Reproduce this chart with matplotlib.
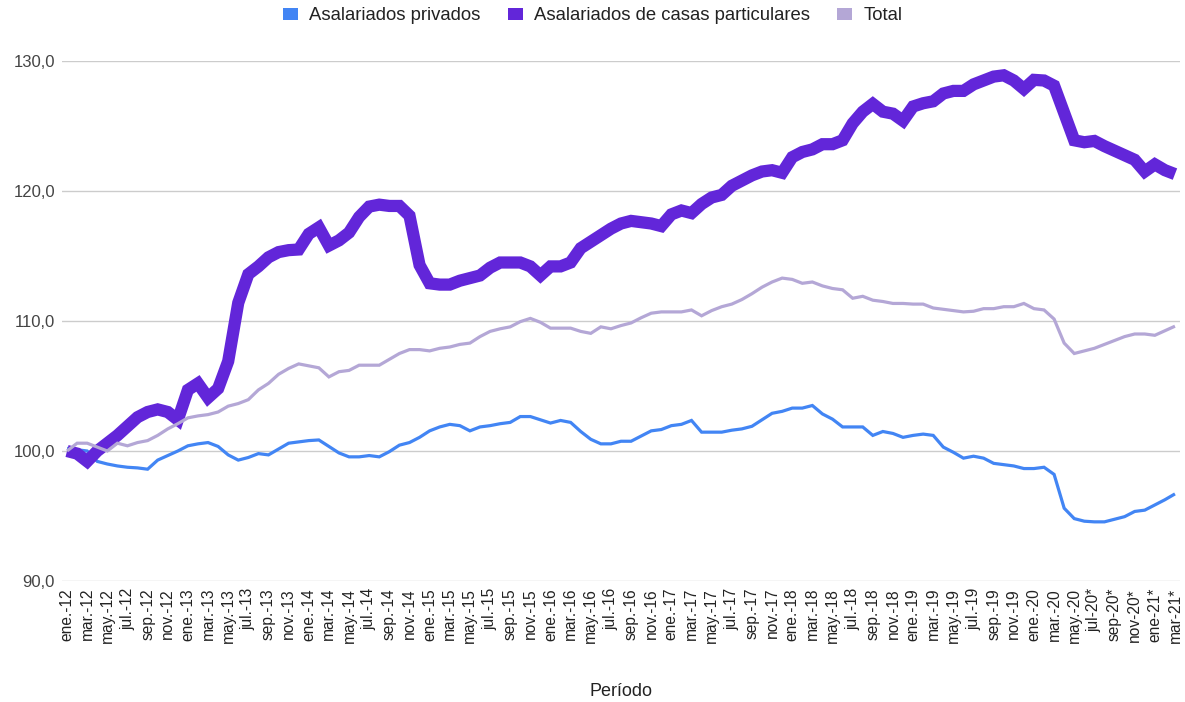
import numpy as np
import matplotlib
matplotlib.use("Agg")
import matplotlib.pyplot as plt
from matplotlib.patches import Patch

plt.rcParams['font.family'] = ['Liberation Sans', 'DejaVu Sans']

# Monthly index values, ene-12 .. mar-21 (111 months)
privados = [
    100.2, 100.1, 100.0, 99.2, 99.0, 98.85, 98.75, 98.7, 98.6, 99.3, 99.65, 100.0,
    100.4, 100.55, 100.65, 100.35, 99.7, 99.3, 99.5, 99.8, 99.7, 100.15, 100.6, 100.7,
    100.8, 100.85, 100.35, 99.85, 99.55, 99.55, 99.65, 99.55, 99.95, 100.45, 100.65, 101.05,
    101.55, 101.85, 102.05, 101.95, 101.55, 101.85, 101.95, 102.1, 102.2, 102.65, 102.65, 102.4,
    102.15, 102.35, 102.2, 101.5, 100.9, 100.55, 100.55, 100.75, 100.75, 101.15, 101.55, 101.65,
    101.95, 102.05, 102.35, 101.45, 101.45, 101.45, 101.6, 101.7, 101.9, 102.4, 102.9, 103.05,
    103.3, 103.3, 103.5, 102.85, 102.45, 101.85, 101.85, 101.85, 101.2, 101.5, 101.35, 101.05,
    101.2, 101.3, 101.2, 100.3, 99.9, 99.45, 99.6, 99.45, 99.05, 98.95, 98.85, 98.65,
    98.65, 98.75, 98.2, 95.6, 94.8, 94.6, 94.55, 94.55, 94.75, 94.95, 95.35, 95.45,
    95.85, 96.25, 96.7,
]

casas_particulares = [
    100.0, 99.8, 99.2, 100.0, 100.6, 101.2, 101.9, 102.6, 103.0, 103.2, 103.0, 102.4,
    104.7, 105.2, 104.1, 104.8, 106.9, 111.4, 113.6, 114.2, 114.9, 115.3, 115.45, 115.5,
    116.7, 117.2, 115.8, 116.2, 116.8, 118.0, 118.8, 118.95, 118.85, 118.85, 118.1, 114.3,
    112.9, 112.8, 112.8, 113.1, 113.3, 113.5, 114.1, 114.5, 114.5, 114.5, 114.2, 113.5,
    114.2, 114.2, 114.5, 115.6, 116.1, 116.6, 117.1, 117.5, 117.7, 117.6, 117.5, 117.3,
    118.2, 118.5, 118.3, 119.0, 119.5, 119.7, 120.4, 120.8, 121.2, 121.5, 121.6, 121.4,
    122.6, 123.0, 123.2, 123.6, 123.6, 123.9, 125.2, 126.1, 126.7, 126.1, 125.95, 125.4,
    126.5, 126.75, 126.9, 127.5, 127.7, 127.7, 128.2, 128.5, 128.8, 128.9, 128.5, 127.85,
    128.55, 128.5, 128.1, 126.0, 123.9, 123.75, 123.85, 123.45, 123.1, 122.75, 122.4, 121.5,
    122.05, 121.6, 121.3,
]

total = [
    100.0, 100.6, 100.6, 100.3, 100.0, 100.6, 100.4, 100.65, 100.8, 101.2, 101.7, 102.1,
    102.55, 102.7, 102.8, 103.0, 103.45, 103.65, 103.95, 104.7, 105.2, 105.9, 106.35, 106.7,
    106.55, 106.4, 105.7, 106.1, 106.2, 106.6, 106.6, 106.6, 107.05, 107.5, 107.8, 107.8,
    107.7, 107.9, 108.0, 108.2, 108.3, 108.8, 109.2, 109.4, 109.55, 109.95, 110.2, 109.9,
    109.45, 109.45, 109.45, 109.2, 109.05, 109.55, 109.4, 109.65, 109.85, 110.25, 110.6, 110.7,
    110.7, 110.7, 110.85, 110.4, 110.8, 111.1, 111.3, 111.65, 112.1, 112.6, 113.0, 113.3,
    113.2, 112.9, 113.0, 112.7, 112.5, 112.4, 111.75, 111.9, 111.6, 111.5, 111.35, 111.35,
    111.3, 111.3, 111.0, 110.9, 110.8, 110.7, 110.75, 110.95, 110.95, 111.1, 111.1, 111.35,
    110.95, 110.85, 110.15, 108.3, 107.5, 107.7, 107.9, 108.2, 108.5, 108.8, 109.0, 109.0,
    108.9, 109.25, 109.6,
]

# every other month is labelled on the axis
tick_labels = [
    "ene.-12", "mar.-12", "may.-12", "jul.-12", "sep.-12", "nov.-12",
    "ene.-13", "mar.-13", "may.-13", "jul.-13", "sep.-13", "nov.-13",
    "ene.-14", "mar.-14", "may.-14", "jul.-14", "sep.-14", "nov.-14",
    "ene.-15", "mar.-15", "may.-15", "jul.-15", "sep.-15", "nov.-15",
    "ene.-16", "mar.-16", "may.-16", "jul.-16", "sep.-16", "nov.-16",
    "ene.-17", "mar.-17", "may.-17", "jul.-17", "sep.-17", "nov.-17",
    "ene.-18", "mar.-18", "may.-18", "jul.-18", "sep.-18", "nov.-18",
    "ene.-19", "mar.-19", "may.-19", "jul.-19", "sep.-19", "nov.-19",
    "ene.-20", "mar.-20", "may.-20", "jul-20*", "sep-20*", "nov-20*",
    "ene-21*", "mar-21*",
]

series_names = ["Asalariados privados", "Asalariados de casas particulares", "Total"]
colors = ["#4285F4", "#6226D9", "#B4A7D6"]
widths = [2.3, 8.8, 2.3]

x = np.arange(len(total))

fig = plt.figure(figsize=(11.85, 7.02), dpi=100)
ax = fig.add_axes([62 / 1185, 1 - 581 / 702, (1180 - 62) / 1185, 520 / 702])

for vals, c, lw in zip([privados, casas_particulares, total], colors, widths):
    ax.plot(x, vals, color=c, linewidth=lw, solid_joinstyle="miter",
            solid_capstyle="butt")

ax.set_xlim(-0.5, len(total) - 0.5)
ax.set_ylim(90, 130)
ax.set_yticks([90, 100, 110, 120, 130])
ax.set_yticklabels(["90,0", "100,0", "110,0", "120,0", "130,0"])
ax.set_xticks(x[::2])
ax.set_xticklabels(tick_labels, rotation=90)

ax.grid(axis="y", color="#cccccc", linewidth=1)
ax.set_axisbelow(True)
for s in ax.spines.values():
    s.set_visible(False)
ax.tick_params(axis="both", length=0)
ax.tick_params(axis="y", labelsize=12, labelcolor="#444444", pad=5)
ax.tick_params(axis="x", labelsize=11.2, labelcolor="#222222", pad=5)

fig.text(621 / 1185, 1 - 691 / 702, "Período", ha="center", va="center",
         fontsize=13, color="#222222")

handles = [Patch(facecolor=c, edgecolor="none") for c in colors]
fig.legend(handles, series_names, loc="center", bbox_to_anchor=(0.5, 1 - 16 / 702),
           ncol=3, frameon=False, fontsize=13.3, handlelength=0.8, handleheight=0.55,
           handletextpad=0.6, columnspacing=1.5, labelcolor="#222222")

fig.savefig("out.png", dpi=100)
